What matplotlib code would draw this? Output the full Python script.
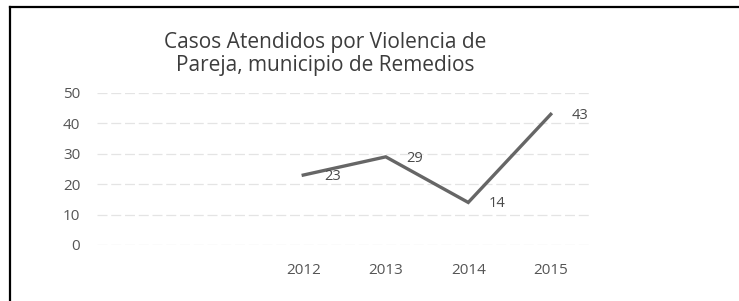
import matplotlib.pyplot as plt
from matplotlib.lines import Line2D

plt.rcParams['font.family'] = ['Open Sans', 'DejaVu Sans']

years = ['2012', '2013', '2014', '2015']
casos = [23, 29, 14, 43]
y_ticks = [0, 10, 20, 30, 40, 50]
title = 'Casos Atendidos por Violencia de\nPareja, municipio de Remedios'

fig = plt.figure(figsize=(7.39, 3.01), dpi=100)
ax = fig.add_axes([97 / 739, 1 - 245 / 301, (592 - 97) / 739, (245 - 93) / 301])

x = list(range(len(years)))
ax.plot(x, casos, color='#666666', linewidth=2.4, solid_joinstyle='miter')
for xi, v in zip(x, casos):
    ax.annotate(str(v), (xi, v), xytext=(15, -1), textcoords='offset points',
                ha='left', va='center', fontsize=10.5, color='#4a4a4a')

ax.set_xlim(-2.5, 3.5)
ax.set_ylim(0, 50)
ax.set_yticks(y_ticks)
ax.set_xticks(x)
ax.set_xticklabels(years)
ax.yaxis.grid(True, color='#e4e4e4', linewidth=0.9, linestyle=(0, (8, 3)))
ax.set_axisbelow(True)
for s in ax.spines.values():
    s.set_visible(False)
ax.tick_params(axis='both', length=0, labelsize=11, labelcolor='#555555')
ax.tick_params(axis='y', pad=12)
ax.tick_params(axis='x', pad=13)

fig.text(325 / 739, 1 - 54 / 301, title, ha='center', va='center',
         fontsize=15, color='#3c3c3c', linespacing=1.1)

# scanned frame
fig.add_artist(Line2D([10 / 739, 10 / 739], [0, 1 - 6.5 / 301], transform=fig.transFigure,
                      color='black', linewidth=1.6))
fig.add_artist(Line2D([10 / 739, 1], [1 - 6.5 / 301, 1 - 6.5 / 301], transform=fig.transFigure,
                      color='black', linewidth=1.6))

fig.savefig('out.png', dpi=100)
